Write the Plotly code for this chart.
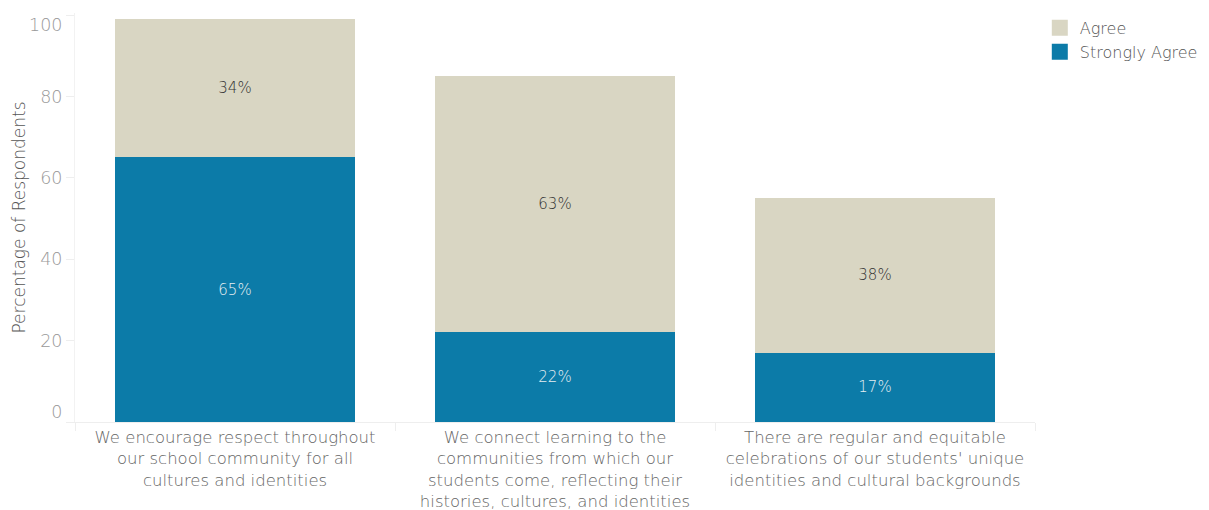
import plotly.graph_objects as go

categories = [
    "We encourage respect throughout<br>our school community for all<br>cultures and identities",
    "We connect learning to the<br>communities from which our<br>students come, reflecting their<br>histories, cultures, and identities",
    "There are regular and equitable<br>celebrations of our students' unique<br>identities and cultural backgrounds",
]
strongly_agree = [65, 22, 17]
agree = [34, 63, 38]
y_ticks_mid = [20, 40, 60, 80]
y_tick_top = [100]
y_tick_bottom = [0]
series_names = ["Agree", "Strongly Agree"]
series_colors = ["#d9d6c3", "#0c7ba8"]

FONT = "DejaVu Sans"
W = 300

fig = go.Figure()
fig.add_trace(go.Bar(
    name="Strongly Agree", x=categories, y=strongly_agree,
    marker=dict(color="#0c7ba8", line=dict(width=0)),
    text=[f"{v}%" for v in strongly_agree], textposition="inside",
    insidetextanchor="middle", showlegend=False,
    textfont=dict(family=FONT, size=15, color="#e6eef2", weight=W),
    hoverinfo="skip",
))
fig.add_trace(go.Bar(
    name="Agree", x=categories, y=agree,
    marker=dict(color="#d9d6c3", line=dict(width=0)),
    text=[f"{v}%" for v in agree], textposition="inside",
    insidetextanchor="middle", showlegend=False,
    textfont=dict(family=FONT, size=15, color="#333333", weight=W),
    hoverinfo="skip",
))
# legend entries with large square swatches
for name, color in zip(series_names, series_colors):
    fig.add_trace(go.Scatter(
        x=[None], y=[None], mode="markers", name=name, legendgroup=name,
        marker=dict(symbol="square", size=20, color=color),
        hoverinfo="skip",
    ))
# empty traces so the overlay axes carrying the end tick labels get drawn
for ax in ["y2", "y3"]:
    fig.add_trace(go.Scatter(
        x=[categories[0]], y=[None], yaxis=ax, mode="markers",
        showlegend=False, hoverinfo="skip", marker=dict(opacity=0),
    ))

tickfont_y = dict(family=FONT, size=17.5, color="#999999", weight=W)
yrange = [0, 100.5]

# page body has an 8px margin, so the figure is sized to fit the window
fig.update_layout(
    width=1201, height=502,
    barmode="stack", bargap=0.25,
    plot_bgcolor="white", paper_bgcolor="white",
    margin=dict(l=67, r=174, t=5, b=88, autoexpand=False),
    font=dict(family=FONT, color="#666666", weight=W),
    legend=dict(
        x=1.005, y=1.005, xanchor="left", yanchor="top",
        traceorder="normal", itemsizing="trace",
        font=dict(family=FONT, size=16, color="#555555", weight=W),
        tracegroupgap=11,
    ),
    # end labels (0 and 100) sit slightly inward, as in the reference
    yaxis2=dict(
        overlaying="y", side="left", range=yrange, tickvals=y_tick_top,
        ticklabelshift=10, automargin=False, showgrid=False, zeroline=False,
        showline=False, ticks="outside", ticklen=8, tickcolor="#eeeeee",
        ticklabelstandoff=0, tickfont=tickfont_y, ticklabeloverflow="allow",
    ),
    yaxis3=dict(
        overlaying="y", side="left", range=yrange, tickvals=y_tick_bottom,
        ticklabelshift=-10, automargin=False, showgrid=False, zeroline=False,
        showline=False, ticks="outside", ticklen=8, tickcolor="#eeeeee",
        ticklabelstandoff=0, tickfont=tickfont_y, ticklabeloverflow="allow",
    ),
    yaxis=dict(
        automargin=False,
        range=yrange, tickvals=y_ticks_mid, ticklabeloverflow="allow",
        showgrid=False, zeroline=False, showline=True, linecolor="#f2f2f2",
        ticks="outside", ticklen=8, tickcolor="#eeeeee", ticklabelstandoff=0,
        tickfont=tickfont_y,
        title=dict(text="Percentage of Respondents", standoff=10,
                   font=dict(family=FONT, size=17, color="#555555", weight=W)),
    ),
)
fig.update_xaxes(
    automargin=False,
    showgrid=False, showline=True, linecolor="#eeeeee", linewidth=1,
    ticks="outside", ticklen=8, tickcolor="#eeeeee", tickson="boundaries",
    tickfont=dict(family=FONT, size=16.5, color="#666666", weight=W),
)

fig.write_html("out.html")
